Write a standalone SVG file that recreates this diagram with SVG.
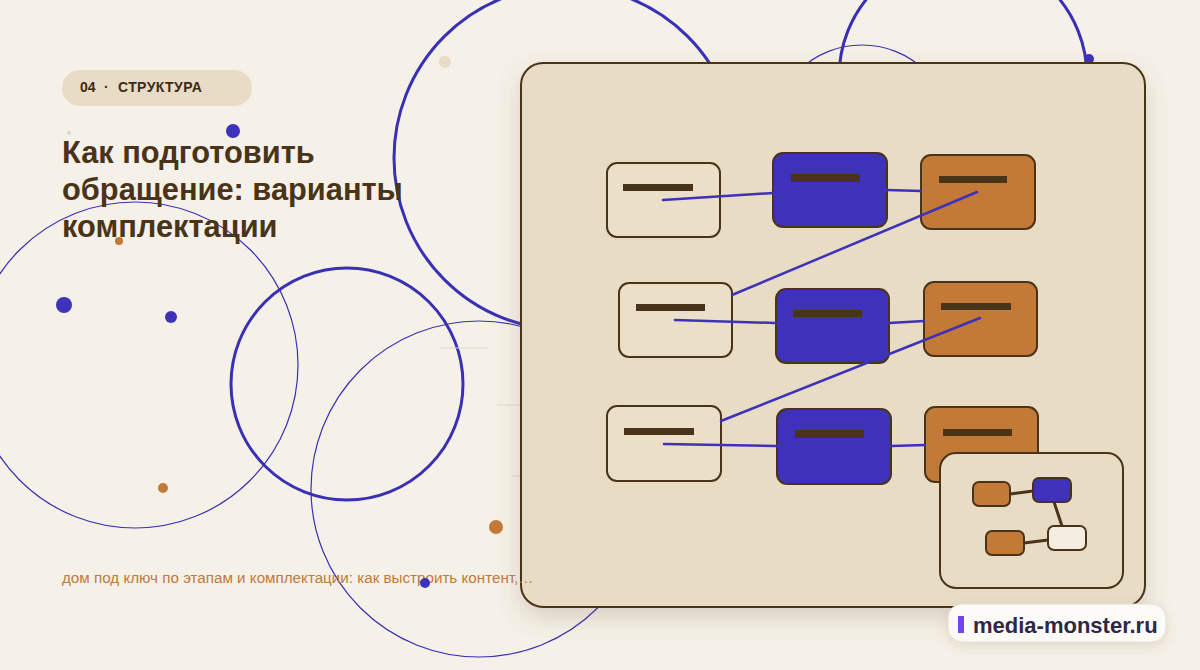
<svg xmlns="http://www.w3.org/2000/svg" width="1200" height="670" viewBox="0 0 1200 670">
<defs>
<style>
.ring{fill:none;stroke:#3a30b4}
.thick{stroke-width:3}
.thin{stroke-width:1.2}
.node{stroke:#4a3419;stroke-width:2}
.lt{fill:#ebdfca}
.bl{fill:#3d32b9}
.or{fill:#c47a37}
.bar{fill:#4a3419}
.con{stroke:#3d32b9;stroke-width:2.5;fill:none;stroke-linecap:round}
.mini{stroke:#4a3419;stroke-width:3;fill:none}
.deco{stroke:#ddd6cb;stroke-width:1}
.tg{font-family:"Liberation Sans",Arial,sans-serif;font-size:14px;font-weight:bold;fill:#3c2a14}
</style>
<filter id="sh" x="-10%" y="-10%" width="125%" height="130%">
<feDropShadow dx="0" dy="10" stdDeviation="12" flood-color="#6b5434" flood-opacity="0.22"/>
</filter>
<filter id="sh2" x="-20%" y="-40%" width="140%" height="190%">
<feDropShadow dx="0" dy="4" stdDeviation="6" flood-color="#6b5434" flood-opacity="0.15"/>
</filter>
</defs>
<rect width="1200" height="670" fill="#f6f1e8"/>
<g id="decor">
<circle class="ring thick" cx="566" cy="158" r="172"/>
<circle class="ring thick" cx="963" cy="77" r="124"/>
<circle class="ring thin" cx="862" cy="136" r="91"/>
<circle class="ring thin" cx="135" cy="365" r="163"/>
<circle class="ring thick" cx="347" cy="384" r="116"/>
<circle class="ring thin" cx="479" cy="489" r="168"/>
<line class="deco" x1="440" y1="348" x2="488" y2="348"/>
<line class="deco" x1="497" y1="405" x2="520" y2="405"/>
<line class="deco" x1="512" y1="476" x2="520" y2="476"/>
<circle cx="445" cy="62" r="6" fill="#e8dbc8"/>
<circle cx="69" cy="133" r="2" fill="#e0d6c4"/>
<circle cx="233" cy="131" r="7" fill="#3d32b9"/>
<circle cx="119" cy="241" r="4" fill="#c47a37"/>
<circle cx="64" cy="305" r="8" fill="#3d32b9"/>
<circle cx="171" cy="317" r="6" fill="#3d32b9"/>
<circle cx="163" cy="488" r="5" fill="#c47a37"/>
<circle cx="496" cy="527" r="7" fill="#c47a37"/>
<circle cx="1089" cy="59" r="5" fill="#3d32b9"/>
</g>
<g id="tag">
<rect x="62" y="70" width="190" height="36" rx="18" fill="#e8dcc6"/>
<text class="tg" x="80" y="92">04</text>
<text class="tg" x="104" y="92">·</text>
<text class="tg" x="118" y="92" letter-spacing="0.4">СТРУКТУРА</text>
</g>
<g id="title" font-family="Liberation Sans, Arial, sans-serif" font-size="30.8" font-weight="bold" fill="#4a3419">
<text x="62" y="163">Как подготовить</text>
<text x="62" y="200">обращение: варианты</text>
<text x="62" y="237">комплектации</text>
</g>
<g id="panel">
<rect x="521" y="63" width="624" height="544" rx="22" fill="#e8dcc5" stroke="#4a3419" stroke-width="2" filter="url(#sh)"/>
</g>
<g id="subtitle">
<text x="62" y="583" font-family="Liberation Sans, Arial, sans-serif" font-size="15.2" fill="#c07a3a">дом под ключ по этапам и комплектации: как выстроить контент,…</text>
<circle cx="425" cy="583" r="5" fill="#3d32b9"/>
</g>
<g id="node-a1"><rect class="node lt" x="607" y="163" width="113" height="74" rx="10"/><rect class="bar" x="623" y="184" width="70" height="7"/></g>
<g id="node-b1"><rect class="node bl" x="773" y="153" width="114" height="74" rx="10"/><rect class="bar" x="791" y="174" width="69" height="8"/></g>
<g id="node-c1"><rect class="node or" x="921" y="155" width="114" height="74" rx="10"/><rect class="bar" x="939" y="176" width="68" height="7"/></g>
<g id="node-a2"><rect class="node lt" x="619" y="283" width="113" height="74" rx="10"/><rect class="bar" x="636" y="304" width="69" height="7"/></g>
<g id="node-b2"><rect class="node bl" x="776" y="289" width="113" height="74" rx="10"/><rect class="bar" x="793" y="310" width="69" height="7"/></g>
<g id="node-c2"><rect class="node or" x="924" y="282" width="113" height="74" rx="10"/><rect class="bar" x="941" y="303" width="70" height="7"/></g>
<g id="node-a3"><rect class="node lt" x="607" y="406" width="114" height="75" rx="10"/><rect class="bar" x="624" y="428" width="70" height="7"/></g>
<g id="node-b3"><rect class="node bl" x="777" y="409" width="114" height="75" rx="10"/><rect class="bar" x="795" y="430" width="69" height="8"/></g>
<g id="node-c3"><rect class="node or" x="925" y="407" width="113" height="75" rx="10"/><rect class="bar" x="943" y="429" width="69" height="7"/></g>
<g id="connectors">
<line class="con" x1="663" y1="200" x2="773" y2="193"/>
<line class="con" x1="887" y1="190" x2="921" y2="191"/>
<line class="con" x1="977" y1="192" x2="732" y2="295"/>
<line class="con" x1="675" y1="320" x2="776" y2="323"/>
<line class="con" x1="889" y1="323" x2="924" y2="321"/>
<line class="con" x1="980" y1="318" x2="721" y2="421"/>
<line class="con" x1="664" y1="444" x2="777" y2="446"/>
<line class="con" x1="891" y1="446" x2="925" y2="445"/>
</g>
<g id="inset">
<rect x="940" y="453" width="183" height="135" rx="16" fill="#e8dcc5" stroke="#4a3419" stroke-width="2"/>
<line class="mini" x1="1010" y1="494" x2="1033" y2="491"/>
<line class="mini" x1="1054" y1="502" x2="1062" y2="526"/>
<line class="mini" x1="1024" y1="543" x2="1048" y2="540"/>
<rect class="node or" x="973" y="482" width="37" height="24" rx="6"/>
<rect class="node bl" x="1033" y="478" width="38" height="24" rx="6"/>
<rect class="node or" x="986" y="531" width="38" height="24" rx="6"/>
<rect class="node" x="1048" y="526" width="38" height="24" rx="6" fill="#f4ede0"/>
</g>
<g id="watermark">
<rect x="948" y="604" width="218" height="38" rx="14" fill="#fdfbf7" stroke="#e2ddd4" stroke-width="1" filter="url(#sh2)"/>
<rect x="958" y="616" width="6" height="17" fill="#7048e8"/>
<text x="973" y="633" font-family="Liberation Sans, Arial, sans-serif" font-size="22" font-weight="bold" fill="#2c2848">media-monster.ru</text>
</g>
</svg>
